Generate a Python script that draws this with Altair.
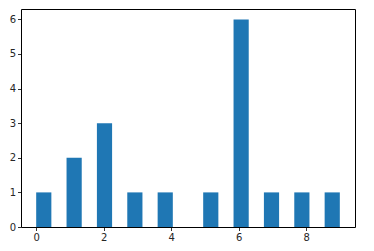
import altair as alt
import pandas as pd

bin_left = [0.0, 0.9, 1.8, 2.7, 3.6, 4.95, 5.85, 6.75, 7.65, 8.55]
bin_right = [0.45, 1.35, 2.25, 3.15, 4.05, 5.4, 6.3, 7.2, 8.1, 9.0]
counts = [1, 2, 3, 1, 1, 1, 6, 1, 1, 1]
x_ticks = [0, 2, 4, 6, 8]
y_ticks = [0, 1, 2, 3, 4, 5, 6]

df = pd.DataFrame({"left": bin_left, "right": bin_right, "count": counts})

axis_common = dict(
    grid=False,
    domain=False,
    tickColor="black",
    tickWidth=0.8,
    tickSize=3.5,
    labelColor="#262626",
    labelFont="DejaVu Sans",
    labelFontSize=10,
    labelPadding=2,
    title=None,
)

chart = alt.Chart(df).mark_bar(color="#1f77b4", stroke=None).encode(
    x=alt.X("left:Q",
            scale=alt.Scale(domain=[-0.45, 9.45], nice=False, zero=False),
            axis=alt.Axis(values=x_ticks, format="d", **axis_common)),
    x2="right:Q",
    y=alt.Y("count:Q",
            scale=alt.Scale(domain=[0, 6.3], nice=False),
            axis=alt.Axis(values=y_ticks, format="d", **axis_common)),
    y2=alt.datum(0),
).properties(
    width=334,
    height=218,
    background="white",
    padding={"left": 21, "top": 9, "right": 19, "bottom": 24},
    autosize=alt.AutoSizeParams(type="none"),
).configure_view(
    stroke="black",
    strokeWidth=1,
)

chart.save("out.html", embed_options={"renderer": "svg", "actions": False})
